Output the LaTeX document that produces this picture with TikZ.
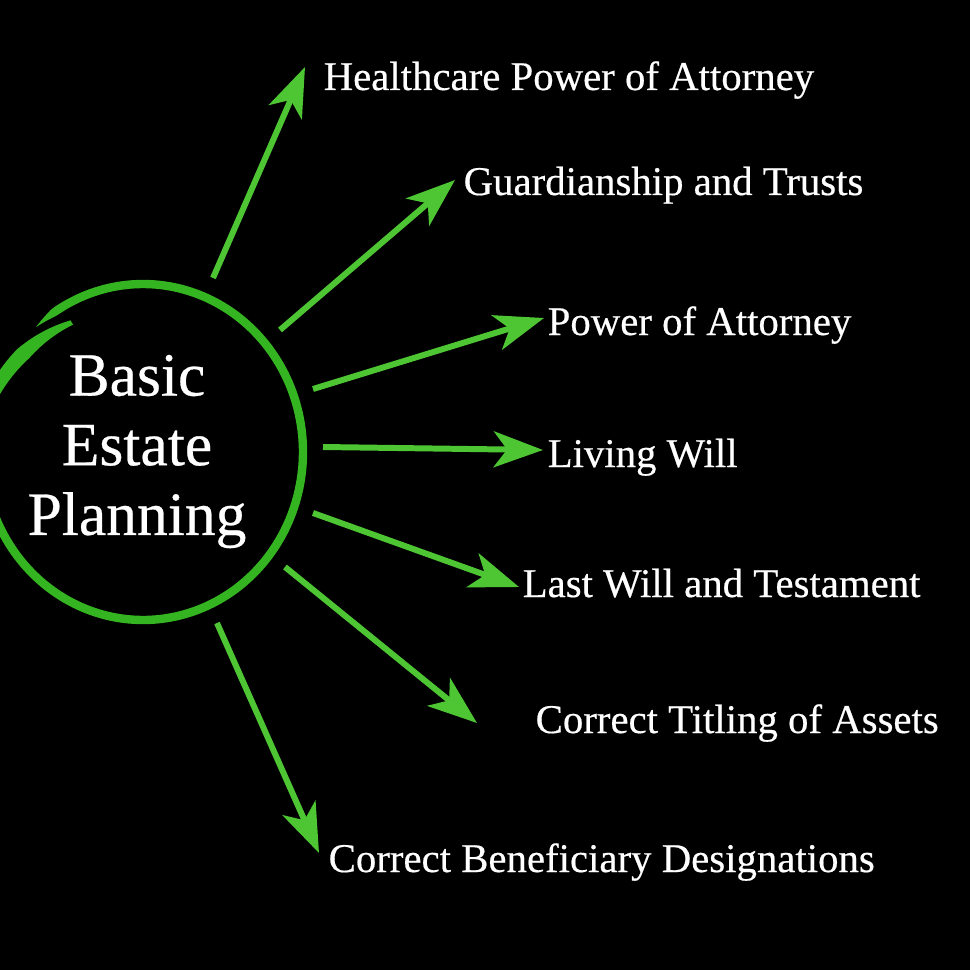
\documentclass[tikz,border=0pt]{standalone}
\usepackage{fontspec}
\setmainfont{Liberation Serif}[FakeBold=0.45]
\usetikzlibrary{arrows.meta}
\definecolor{ringgreen}{RGB}{52,180,32}
\definecolor{arrowgreen}{RGB}{78,198,52}
\begin{document}
\begin{tikzpicture}[x=0.01cm,y=-0.01cm,
  declare function={
    sc(\t)=1-0.11*max(0,(\t-560)/40);
    hw(\t)=(\t<236) ? (0.5*(\t-228)) : ((\t<530) ? 4.2 : ((\t<578) ? (4.2+3.3*(\t-530)/48) : (7.5-5*(\t-578)/22)));
  },
  item/.style={anchor=base west,inner sep=0pt,text=white,font=\fontsize{11.6pt}{13pt}\selectfont},
  ray/.style={draw=arrowgreen,line width=1.7pt,-{Stealth[length=14pt,width=10.2pt,inset=3.8pt]}}]
\fill[black] (0,0) rectangle (970,970);
\useasboundingbox (0,0) rectangle (970,970);
% brush ring
\fill[ringgreen] plot[domain=228:600,samples=240,variable=\t]
  ({143+(160*sc(\t)+hw(\t))*cos(\t)},{452+(168*sc(\t)+hw(\t))*sin(\t)})
  -- plot[domain=600:228,samples=240,variable=\t]
  ({143+(160*sc(\t)-hw(\t))*cos(\t)},{452+(168*sc(\t)-hw(\t))*sin(\t)}) -- cycle;
\node[align=center,inner sep=0pt,text=white,font=\fontsize{17.5pt}{19.8pt}\selectfont] (core) at (137,451.5) {Basic\\Estate\\Planning};
% labels
\node[item] (hc) at (323,90) {Healthcare Power of Attorney};
\node[item] (gt) at (463,195) {Guardianship and Trusts};
\node[item] (pa) at (547,335) {Power of Attorney};
\node[item] (lw) at (547,467) {Living Will};
\node[item] (lt) at (522,597) {Last Will and Testament};
\node[item] (ct) at (535,733) {Correct Titling of Assets};
\node[item] (cb) at (328,872) {Correct Beneficiary Designations};
% arrow ends
\coordinate (s1) at (213,278); \coordinate (t1) at (305,67);
\coordinate (s2) at (280,330); \coordinate (t2) at (455,180);
\coordinate (s3) at (313,389); \coordinate (t3) at (544,318);
\coordinate (s4) at (323,447); \coordinate (t4) at (543,450);
\coordinate (s5) at (313,513); \coordinate (t5) at (519,587);
\coordinate (s6) at (285,567); \coordinate (t6) at (477,723);
\coordinate (s7) at (217,623); \coordinate (t7) at (319,853);
\foreach \i in {1,...,7}{\draw[ray] (s\i) -- (t\i);}
\end{tikzpicture}
\end{document}
